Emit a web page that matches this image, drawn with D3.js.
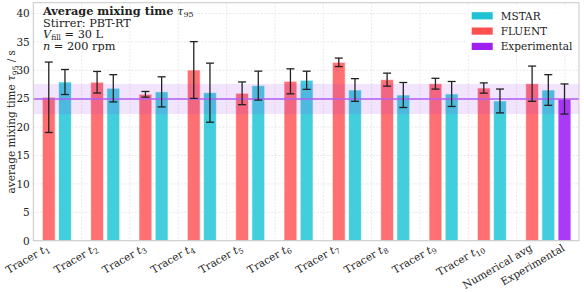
<!DOCTYPE html>
<html><head><meta charset="utf-8">
<script src="https://cdn.jsdelivr.net/npm/d3@7"></script>
<style>body{margin:0;background:#fff}svg{display:block}text{font-family:"DejaVu Serif",serif}</style>
</head><body><svg id="c" width="584" height="292"></svg>
<script>
const tracerNums = ["1","2","3","4","5","6","7","8","9","10"];
const groupNames = ["Tracer t1","Tracer t2","Tracer t3","Tracer t4","Tracer t5","Tracer t6","Tracer t7","Tracer t8","Tracer t9","Tracer t10","Numerical avg"];
const fluent    = [25.25, 27.9, 25.77, 30.05, 25.95, 28.06, 31.4, 28.35, 27.64, 26.88, 27.64];
const fluentErr = [6.2, 1.9, 0.5, 5.0, 2.0, 2.2, 0.75, 1.15, 0.95, 0.9, 3.1];
const mstar     = [27.94, 26.83, 26.2, 26.06, 27.3, 28.24, 26.53, 25.65, 25.83, 24.6, 26.53];
const mstarErr  = [2.2, 2.4, 2.65, 5.2, 2.55, 1.6, 2.0, 2.2, 2.2, 2.1, 2.7];
const experimental = [24.95];
const experimentalErr = [2.65];
const yTicks = [0,5,10,15,20,25,30,35,40];

const svg = d3.select("#c");
const L=33.3, R=579, T=2.7, B=240.7;
const x = d3.scaleLinear().domain([0, 11.29]).range([L, R]);
const y = d3.scaleLinear().domain([0, 41.9]).range([B, T]);
const bw = 0.265;
const cF = "#fe7072", cM = "#42cedc", cE = "#aa3af7";

// grid
const g = svg.append("g");
g.selectAll(".hg").data(yTicks).join("line")
  .attr("x1",L).attr("x2",R).attr("y1",d=>y(d)).attr("y2",d=>y(d))
  .attr("stroke","#e2e2e2").attr("stroke-width",0.8).attr("stroke-dasharray","2,1.5");
g.selectAll(".vg").data(d3.range(1,12)).join("line")
  .attr("y1",T).attr("y2",B).attr("x1",d=>x(d)).attr("x2",d=>x(d))
  .attr("stroke","#e2e2e2").attr("stroke-width",0.8).attr("stroke-dasharray","2,1.5");

// bars
const bars = [];
fluent.forEach((v,i)=>bars.push({pos:i+0.32, v, e:fluentErr[i], c:cF}));
mstar.forEach((v,i)=>bars.push({pos:i+0.655, v, e:mstarErr[i], c:cM}));
experimental.forEach((v,i)=>bars.push({pos:10.99, v, e:experimentalErr[i], c:cE}));

svg.append("g").selectAll("rect").data(bars).join("rect")
  .attr("x",d=>x(d.pos-bw/2)).attr("width",x(bw)-x(0))
  .attr("y",d=>y(d.v)).attr("height",d=>y(0)-y(d.v))
  .attr("fill",d=>d.c).attr("stroke","rgba(255,255,255,0.6)").attr("stroke-width",1);

// band + mean line
const ex = experimental[0], ee = experimentalErr[0];
svg.append("rect").attr("x",L).attr("width",R-L).attr("y",y(ex+ee)).attr("height",y(ex-ee)-y(ex+ee))
  .attr("fill","#a020f0").attr("opacity",0.12);
svg.append("line").attr("x1",L).attr("x2",R).attr("y1",y(ex)).attr("y2",y(ex))
  .attr("stroke","#b061f2").attr("stroke-width",1.5);

// error bars
const eb = svg.append("g").attr("stroke","#222").attr("stroke-width",1.3);
bars.forEach(d=>{
  const cx = x(d.pos);
  eb.append("line").attr("x1",cx).attr("x2",cx).attr("y1",y(d.v+d.e)).attr("y2",y(d.v-d.e));
  [d.v+d.e, d.v-d.e].forEach(t=>eb.append("line").attr("x1",cx-4).attr("x2",cx+4).attr("y1",y(t)).attr("y2",y(t)));
});

// frame
svg.append("rect").attr("x",L).attr("y",T).attr("width",R-L).attr("height",B-T)
  .attr("fill","none").attr("stroke","#c8c8c8").attr("stroke-width",1);

// y ticks
svg.append("g").selectAll("text").data(yTicks).join("text")
  .attr("x",L-3.5).attr("y",d=>y(d)+3.8).attr("text-anchor","end")
  .attr("font-size",10.5).attr("fill","#222").text(d=>d);

// y label
const yl = svg.append("text").attr("transform",`translate(15,${(T+B)/2}) rotate(-90)`)
  .attr("text-anchor","middle").attr("font-size",10.5).attr("fill","#222");
yl.append("tspan").text("average mixing time ");
yl.append("tspan").attr("font-style","italic").text("τ");
yl.append("tspan").attr("font-size",7.5).attr("dy",2.5).text("95");
yl.append("tspan").attr("dy",-2.5).text(" / s");

// x tick labels
const xl = svg.append("g");
function addLabel(px, build){
  const t = xl.append("text").attr("transform",`translate(${px},250) rotate(-30)`)
    .attr("text-anchor","end").attr("font-size",10.5).attr("fill","#222");
  build(t);
}
tracerNums.forEach((n,i)=>addLabel(x(i+0.32)+1, t=>{
  t.append("tspan").text("Tracer ");
  t.append("tspan").attr("font-style","italic").text("t");
  t.append("tspan").attr("font-size",7.5).attr("dy",2.5).text(n);
}));
addLabel(x(10.32)+1, t=>t.text(groupNames[10]));
addLabel(x(10.99)+1, t=>t.text("Experimental"));

// title
const tt = svg.append("g").attr("font-size",11.3).attr("fill","#222");
const t1 = tt.append("text").attr("x",43).attr("y",15.3);
t1.append("tspan").attr("font-weight","bold").text("Average mixing time ");
t1.append("tspan").attr("font-style","italic").text("τ");
t1.append("tspan").attr("font-size",8).attr("dy",2).text("95");
tt.append("text").attr("x",43).attr("y",26.8).text("Stirrer: PBT-RT");
const t3 = tt.append("text").attr("x",43).attr("y",38.2);
t3.append("tspan").attr("font-style","italic").text("V");
t3.append("tspan").attr("font-size",7.5).attr("dy",1.6).text("fill");
t3.append("tspan").attr("dy",-1.6).text(" = 30 L");
const t4 = tt.append("text").attr("x",43).attr("y",49.6);
t4.append("tspan").attr("font-style","italic").text("n");
t4.append("tspan").text(" = 200 rpm");

// legend
const lg = svg.append("g");
lg.append("rect").attr("x",466).attr("y",6).attr("width",112).attr("height",49).attr("rx",2)
  .attr("fill","#fff").attr("opacity",0.8);
const legItems = [["MSTAR","#1fc3d3"],["FLUENT","#ff5050"],["Experimental","#a020f0"]];
legItems.forEach((d,i)=>{
  const cy = 15.8 + i*15.3;
  lg.append("rect").attr("x",471.7).attr("y",cy-3.6).attr("width",21).attr("height",7.2).attr("fill",d[1]);
  lg.append("text").attr("x",500.7).attr("y",cy+3.7).attr("font-size",10.5).attr("fill","#222").text(d[0]);
});
</script></body></html>
